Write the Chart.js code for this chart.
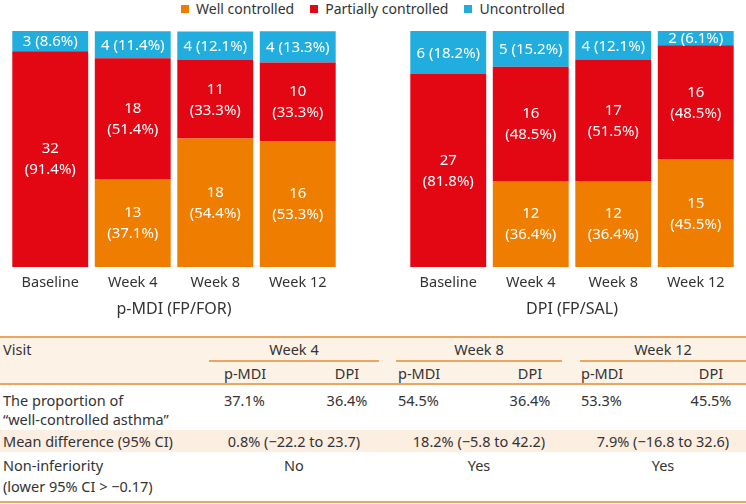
<!DOCTYPE html>
<html>
<head>
<meta charset="utf-8">
<script src="https://cdn.jsdelivr.net/npm/chart.js@4/dist/chart.umd.min.js"></script>
<style>
  html, body { margin: 0; padding: 0; background: #fff; }
  body { width: 746px; height: 504px; position: relative; overflow: hidden;
         font-family: "Noto Sans", sans-serif; color: #333; }
  .legend { position: absolute; top: 0; left: 0; width: 746px; height: 17px;
            display: flex; justify-content: center; align-items: center; font-size: 14px; }
  .legend span.item { display: flex; align-items: center; margin: 0 8px; }
  .legend i { display: inline-block; width: 8px; height: 8px; margin-right: 7px; }
  .box { position: absolute; }
  .t { position: absolute; font-size: 14.5px; white-space: nowrap; line-height: 18px; transform: translateY(-50%); }
  .c { transform: translate(-50%, -50%); }
  .ln { position: absolute; height: 2px; background: #eba75f; }
</style>
</head>
<body>
<div class="legend" id="legend"></div>
<div class="box" style="left:9px;top:31px;width:330px;height:290.1px"><canvas id="ct-chart1"></canvas></div>
<div class="box" style="left:407px;top:31px;width:330px;height:290.1px"><canvas id="ct-chart2"></canvas></div>
<div id="tabela"></div>
<script>
// dados
const categorias = ['Baseline', 'Week 4', 'Week 8', 'Week 12'];
const series = ['Well controlled', 'Partially controlled', 'Uncontrolled'];
const cores = ['#ef7d00', '#e30613', '#21aedf'];

const pmdiWellN = [0, 13, 18, 16];
const pmdiWellP = [0, 37.1, 54.4, 53.3];
const pmdiPartN = [32, 18, 11, 10];
const pmdiPartP = [91.4, 51.4, 33.3, 33.3];
const pmdiUncN = [3, 4, 4, 4];
const pmdiUncP = [8.6, 11.4, 12.1, 13.3];

const dpiWellN = [0, 12, 12, 15];
const dpiWellP = [0, 36.4, 36.4, 45.5];
const dpiPartN = [27, 16, 17, 16];
const dpiPartP = [81.8, 48.5, 51.5, 48.5];
const dpiUncN = [6, 5, 4, 2];
const dpiUncP = [18.2, 15.2, 12.1, 6.1];

// tabela
const semanas = ['Week 4', 'Week 8', 'Week 12'];
const propPmdi = ['37.1%', '54.5%', '53.3%'];
const propDpi = ['36.4%', '36.4%', '45.5%'];
const diferenca = ['0.8% (\u221222.2 to 23.7)', '18.2% (\u22125.8 to 42.2)', '7.9% (\u221216.8 to 32.6)'];
const naoInferior = ['No', 'Yes', 'Yes'];

// legenda
var leg = '';
for (var i = 0; i < series.length; i++) {
  leg += '<span class="item"><i style="background:' + cores[i] + '"></i>' + series[i] + '</span>';
}
document.getElementById('legend').innerHTML = leg;

// rotulos dentro das barras
const rotulos = {
  id: 'rotulos',
  afterDatasetsDraw(chart) {
    const ctx = chart.ctx;
    ctx.save();
    ctx.fillStyle = '#fff';
    ctx.font = '15px "Noto Sans"';
    ctx.textAlign = 'center';
    ctx.textBaseline = 'middle';
    chart.data.datasets.forEach(function (ds, di) {
      const meta = chart.getDatasetMeta(di);
      meta.data.forEach(function (bar, k) {
        const n = ds.counts[k];
        if (!n) return;
        const top = Math.max(bar.y, chart.chartArea.top);
        const mid = (top + bar.base) / 2;
        const p = ds.data[k].toFixed(1) + '%';
        if (di === 2) {
          ctx.fillText(n + ' (' + p + ')', bar.x, mid + 1);
        } else {
          ctx.fillText(String(n), bar.x, mid - 10);
          ctx.fillText('(' + p + ')', bar.x, mid + 11);
        }
      });
    });
    ctx.restore();
  }
};

function ChartEmpilhado(ID, titulo, W, WN, P, PN, U, UN) {
  const ctx = document.getElementById('ct-chart' + ID);
  return new Chart(ctx, {
    type: 'bar',
    data: {
      labels: categorias,
      datasets: [
        { label: series[0], data: W, counts: WN, backgroundColor: cores[0] },
        { label: series[1], data: P, counts: PN, backgroundColor: cores[1] },
        { label: series[2], data: U, counts: UN, backgroundColor: cores[2] }
      ]
    },
    options: {
      responsive: true,
      maintainAspectRatio: false,
      animation: false,
      layout: { padding: 0 },
      datasets: { bar: { barPercentage: 0.92, categoryPercentage: 1, borderWidth: 0 } },
      plugins: { legend: { display: false }, tooltip: { enabled: false } },
      scales: {
        x: {
          stacked: true,
          grid: { display: false, drawTicks: false },
          border: { display: false },
          ticks: { color: '#333', padding: 7, font: { family: 'Noto Sans', size: 14.5 } },
          title: { display: true, text: titulo, color: '#333',
                   font: { family: 'Noto Sans', size: 16 }, padding: { top: 1.5, bottom: 2 } }
        },
        y: { stacked: true, display: false, min: 0, max: 100 }
      }
    },
    plugins: [rotulos]
  });
}

ChartEmpilhado(1, 'p-MDI (FP/FOR)', pmdiWellP, pmdiWellN, pmdiPartP, pmdiPartN, pmdiUncP, pmdiUncN);
ChartEmpilhado(2, 'DPI (FP/SAL)', dpiWellP, dpiWellN, dpiPartP, dpiPartN, dpiUncP, dpiUncN);

// tabela montada com divs posicionadas
const grpEsq = [209, 396, 580];
const grpDir = [379, 562, 746];
const colPm = [224, 398, 581];
const colDpi = [347, 530, 711];
var h = '';
h += '<div class="box" style="left:0;top:337px;width:746px;height:48px;background:#fdf2e6"></div>';
h += '<div class="box" style="left:0;top:430px;width:746px;height:22px;background:#fdeee2"></div>';
h += '<div class="ln" style="left:0;top:336px;width:746px"></div>';
h += '<div class="ln" style="left:0;top:383px;width:746px"></div>';
h += '<div class="ln" style="left:0;top:501px;width:746px"></div>';
function txt(x, y, s, centro) {
  return '<div class="t' + (centro ? ' c' : '') + '" style="left:' + x + 'px;top:' + y + 'px">' + s + '</div>';
}
h += txt(3, 349, 'Visit');
h += txt(3, 400, 'The proportion of');
h += txt(3, 419, '\u201cwell-controlled asthma\u201d');
h += txt(3, 441, 'Mean difference (95% CI)');
h += txt(3, 465, 'Non-inferiority');
h += txt(3, 486, '(lower 95% CI &gt; \u22120.17)');
for (var g = 0; g < semanas.length; g++) {
  const cx = (grpEsq[g] + grpDir[g]) / 2;
  h += '<div class="ln" style="left:' + grpEsq[g] + 'px;top:360px;width:' + (grpDir[g] - grpEsq[g]) + 'px"></div>';
  h += txt(cx, 349, semanas[g], true);
  h += txt(colPm[g], 373, 'p-MDI');
  h += txt(colDpi[g], 373, 'DPI', true);
  h += txt(colPm[g], 400, propPmdi[g]);
  h += txt(colDpi[g], 400, propDpi[g], true);
  h += txt(cx, 441, diferenca[g], true);
  h += txt(cx, 465, naoInferior[g], true);
}
document.getElementById('tabela').innerHTML = h;
</script>
</body>
</html>
